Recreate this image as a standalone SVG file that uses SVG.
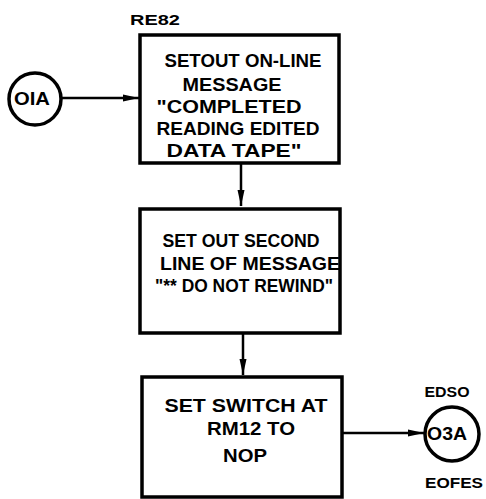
<svg xmlns="http://www.w3.org/2000/svg" width="486" height="499" viewBox="0 0 486 499">
<defs>
<style>
.box{fill:#fff;stroke:#000;stroke-width:3.5}
.circ{fill:#fff;stroke:#000;stroke-width:3.5}
.con{fill:none;stroke:#000;stroke-width:2.5}
text{font-family:"Liberation Sans",Arial,sans-serif;font-weight:bold;font-size:18px;fill:#000;text-anchor:middle}
.lbl{font-size:15px}
</style>
<marker id="ah" viewBox="0 0 16 10" refX="16" refY="5" markerWidth="16" markerHeight="10" markerUnits="userSpaceOnUse" orient="auto">
<path d="M0,1.5 L16,5 L0,8.5 Z" fill="#000"/>
</marker>
</defs>
<rect width="486" height="499" fill="#fff"/>
<g id="connectors">
<line class="con" x1="62" y1="98" x2="139" y2="98" marker-end="url(#ah)"/>
<line class="con" x1="241" y1="163" x2="241" y2="206" marker-end="url(#ah)"/>
<line class="con" x1="243" y1="333" x2="243" y2="375" marker-end="url(#ah)"/>
<line class="con" x1="342" y1="433" x2="424" y2="433" marker-end="url(#ah)"/>
</g>
<g id="c01a">
<circle class="circ" cx="35" cy="99" r="26"/>
<text x="32" y="105" textLength="36" lengthAdjust="spacingAndGlyphs">OIA</text>
</g>
<g id="re82">
<text class="lbl" x="155" y="25" textLength="50" lengthAdjust="spacingAndGlyphs">RE82</text>
<rect class="box" x="140" y="35" width="199" height="128"/>
<text x="243" y="67" textLength="157" lengthAdjust="spacingAndGlyphs">SETOUT ON-LINE</text>
<text x="232" y="91" textLength="99" lengthAdjust="spacingAndGlyphs">MESSAGE</text>
<text x="229" y="113" textLength="145" lengthAdjust="spacingAndGlyphs">"COMPLETED</text>
<text x="238" y="135" textLength="163" lengthAdjust="spacingAndGlyphs">READING EDITED</text>
<text x="234" y="157" textLength="135" lengthAdjust="spacingAndGlyphs">DATA TAPE"</text>
</g>
<g id="box2">
<rect class="box" x="140" y="209" width="200" height="124"/>
<text x="241" y="247" textLength="157" lengthAdjust="spacingAndGlyphs">SET OUT SECOND</text>
<text x="250" y="270" textLength="180" lengthAdjust="spacingAndGlyphs">LINE OF MESSAGE</text>
<text x="244" y="292" textLength="178" lengthAdjust="spacingAndGlyphs">"** DO NOT REWIND"</text>
</g>
<g id="box3">
<rect class="box" x="142" y="377" width="200" height="120"/>
<text x="246" y="412" textLength="163" lengthAdjust="spacingAndGlyphs">SET SWITCH AT</text>
<text x="251" y="435" textLength="88" lengthAdjust="spacingAndGlyphs">RM12 TO</text>
<text x="245" y="462" textLength="44" lengthAdjust="spacingAndGlyphs">NOP</text>
</g>
<g id="c03a">
<text class="lbl" x="447" y="397" textLength="45" lengthAdjust="spacingAndGlyphs">EDSO</text>
<circle class="circ" cx="452" cy="434" r="27"/>
<text x="447" y="440" textLength="40" lengthAdjust="spacingAndGlyphs">O3A</text>
<text class="lbl" x="454" y="488" textLength="58" lengthAdjust="spacingAndGlyphs">EOFES</text>
</g>
</svg>
